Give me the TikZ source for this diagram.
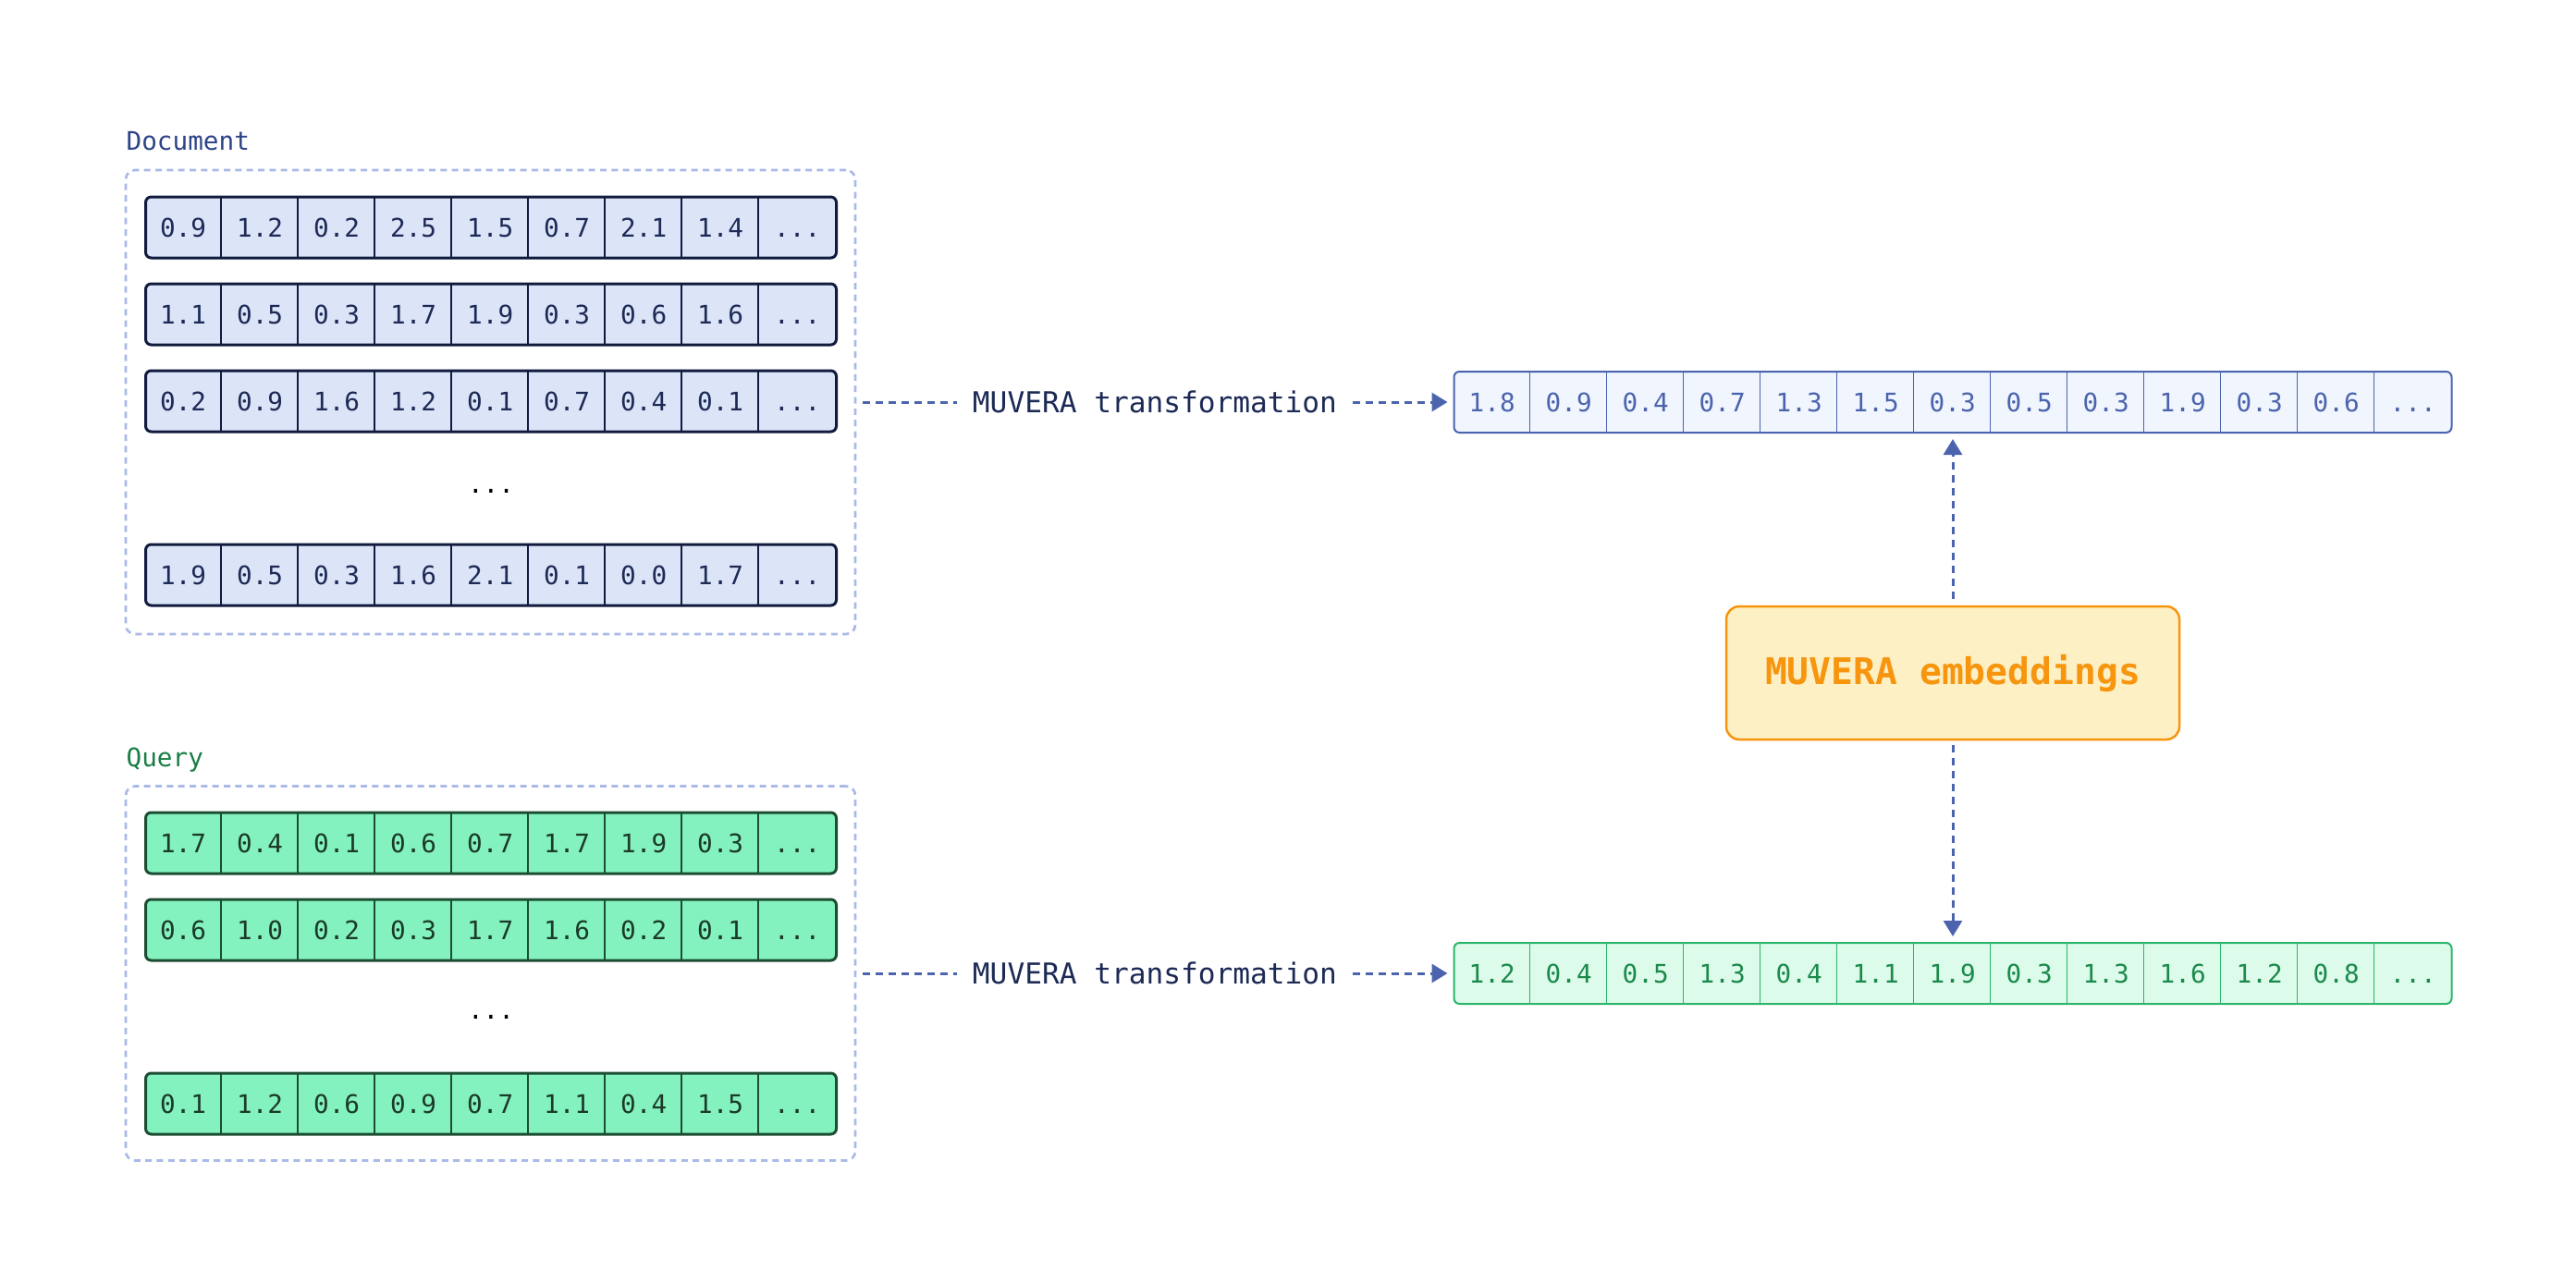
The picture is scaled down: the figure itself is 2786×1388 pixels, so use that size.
\documentclass[tikz,border=0pt]{standalone}
\usepackage{fontspec}
\setmonofont{DejaVu Sans Mono}
\usetikzlibrary{arrows.meta,calc,positioning}

\definecolor{docink}{HTML}{1C2A55}
\definecolor{docline}{HTML}{101B3E}
\definecolor{docfill}{HTML}{DCE4F8}
\definecolor{doclbl}{HTML}{2D4488}
\definecolor{qryink}{HTML}{1B3A2A}
\definecolor{qryline}{HTML}{1C4D33}
\definecolor{qryfill}{HTML}{84F2BE}
\definecolor{qrylbl}{HTML}{1A7F45}
\definecolor{grpline}{HTML}{A9B9E8}
\definecolor{flowc}{HTML}{4B64AD}
\definecolor{doutfill}{HTML}{F0F5FE}
\definecolor{qout}{HTML}{2BB56A}
\definecolor{qoutink}{HTML}{1A8A4B}
\definecolor{qoutfill}{HTML}{DDFBEB}
\definecolor{embline}{HTML}{F7950F}
\definecolor{embfill}{HTML}{FDF0C4}

\newcommand{\cellfont}{\ttfamily\fontsize{8.3}{10}\selectfont}
\newcommand{\lblfont}{\ttfamily\fontsize{8.3}{10}\selectfont}
\newcommand{\trfont}{\ttfamily\fontsize{9.35}{11}\selectfont}
\newcommand{\embfont}{\ttfamily\bfseries\fontsize{11.9}{14}\selectfont}
\newcommand{\more}{...}

% one vector: name, kind, centre, values
\newcommand{\vecrow}[4]{%
  \node[#2row] (#1) at #3 {};
  \foreach \v [count=\i] in {#4} {
    \node[#2val, anchor=west] (#1-\i) at ($(#1.west)+({(\i-1)*83},0)$) {\v};
    \ifnum\i>1 \draw[#2sep] (#1-\i.north west) -- (#1-\i.south west);\fi
  }%
}

\begin{document}
\begin{tikzpicture}[
  x=0.3pt, y=-0.3pt,
  cell/.style={inner sep=0, minimum width=24.9pt, minimum height=19.8pt, text height=6.1pt, text depth=0pt, font=\cellfont},
  docrow/.style={draw=docline, line width=0.9pt, fill=docfill, rounded corners=1.8pt, minimum width=224.1pt, minimum height=19.8pt, inner sep=0},
  docval/.style={cell, text=docink},
  docsep/.style={draw=docline, line width=0.6pt},
  qryrow/.style={draw=qryline, line width=0.9pt, fill=qryfill, rounded corners=1.8pt, minimum width=224.1pt, minimum height=19.8pt, inner sep=0},
  qryval/.style={cell, text=qryink},
  qrysep/.style={draw=qryline, line width=0.6pt},
  doutrow/.style={draw=flowc, line width=0.6pt, fill=doutfill, rounded corners=1.8pt, minimum width=323.7pt, minimum height=19.8pt, inner sep=0},
  doutval/.style={cell, text=flowc},
  doutsep/.style={draw=flowc, line width=0.45pt},
  qoutrow/.style={draw=qout, line width=0.6pt, fill=qoutfill, rounded corners=1.8pt, minimum width=323.7pt, minimum height=19.8pt, inner sep=0},
  qoutval/.style={cell, text=qoutink},
  qoutsep/.style={draw=qout, line width=0.45pt},
  group/.style={draw=grpline, line width=0.8pt, dash pattern=on 2.1pt off 1.6pt, rounded corners=3pt, minimum width=236.7pt, inner sep=0},
  grplabel/.style={font=\lblfont, inner sep=0, anchor=base west},
  dots/.style={font=\cellfont, inner sep=0, anchor=base},
  trlabel/.style={text=docink, font=\trfont, inner xsep=4.8pt},
  embbox/.style={draw=embline, line width=0.75pt, fill=embfill, text=embline, rounded corners=4.2pt, minimum width=147pt, minimum height=43.2pt, font=\embfont},
  flow/.style={draw=flowc, line width=0.9pt, dash pattern=on 2.4pt off 1.8pt},
  arrow/.style={flow, -{Triangle[length=5.1pt, width=6pt]}}
]
\path[fill=white] (0,0) rectangle (2786,1388);

% document side
\node[grplabel, text=doclbl] (doclabel) at (136,162) {Document};
\node[group, minimum height=150.6pt] (docbox) at (530.5,435) {};
\vecrow{d1}{doc}{(531,246)}{0.9,1.2,0.2,2.5,1.5,0.7,2.1,1.4,\more}
\vecrow{d2}{doc}{(531,340)}{1.1,0.5,0.3,1.7,1.9,0.3,0.6,1.6,\more}
\vecrow{d3}{doc}{(531,434)}{0.2,0.9,1.6,1.2,0.1,0.7,0.4,0.1,\more}
\node[dots] (ddots) at (531,533) {\more};
\vecrow{d4}{doc}{(531,622)}{1.9,0.5,0.3,1.6,2.1,0.1,0.0,1.7,\more}

% query side
\node[grplabel, text=qrylbl] (qrylabel) at (136,829) {Query};
\node[group, minimum height=121.5pt] (qrybox) at (530.5,1053) {};
\vecrow{q1}{qry}{(531,912)}{1.7,0.4,0.1,0.6,0.7,1.7,1.9,0.3,\more}
\vecrow{q2}{qry}{(531,1006)}{0.6,1.0,0.2,0.3,1.7,1.6,0.2,0.1,\more}
\node[dots] (qdots) at (531,1102) {\more};
\vecrow{q4}{qry}{(531,1194)}{0.1,1.2,0.6,0.9,0.7,1.1,0.4,1.5,\more}

% single vectors
\node[trlabel] (dtr) at (1249,435) {MUVERA transformation};
\node[trlabel] (qtr) at (1249,1053) {MUVERA transformation};
\vecrow{dvec}{dout}{(2112,435)}{1.8,0.9,0.4,0.7,1.3,1.5,0.3,0.5,0.3,1.9,0.3,0.6,\more}
\vecrow{qvec}{qout}{(2112,1053)}{1.2,0.4,0.5,1.3,0.4,1.1,1.9,0.3,1.3,1.6,1.2,0.8,\more}
\node[embbox] (emb) at (2112,728) {MUVERA embeddings};

\draw[flow, shorten <=2.1pt] (docbox) -- (dtr);
\draw[arrow, shorten >=1.8pt] (dtr) -- (dvec);
\draw[flow, shorten <=2.1pt] (qrybox) -- (qtr);
\draw[arrow, shorten >=1.8pt] (qtr) -- (qvec);
\draw[arrow, shorten <=2.1pt, shorten >=1.8pt] (emb) -- (dvec);
\draw[arrow, shorten <=1.5pt, shorten >=1.8pt] (emb) -- (qvec);
\end{tikzpicture}
\end{document}
